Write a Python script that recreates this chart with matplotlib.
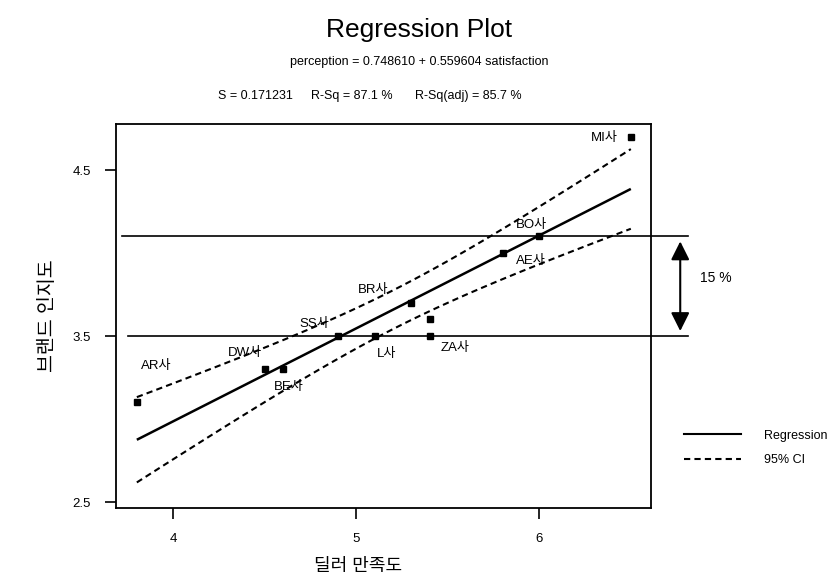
import numpy as np
import matplotlib
matplotlib.use('Agg')
import matplotlib.pyplot as plt
from matplotlib.lines import Line2D

plt.rcParams['font.family'] = ['Liberation Sans', 'Noto Sans CJK KR', 'DejaVu Sans']
plt.rcParams['axes.unicode_minus'] = False

# 딜러 만족도 / 브랜드 인지도
satisfaction = [3.8, 4.5, 4.6, 4.9, 5.1, 5.4, 5.4, 5.3, 5.8, 6.0, 6.5]
perception = [3.1, 3.3, 3.3, 3.5, 3.5, 3.5, 3.6, 3.7, 4.0, 4.1, 4.7]

companies = ['AR사', 'DW사', 'BE사', 'SS사', 'L사', 'ZA사', 'BR사', 'AE사', 'BO사', 'MI사']
# where each company name sits (left edge, vertical centre)
label_xy = [(3.82, 3.32), (4.30, 3.40), (4.55, 3.19), (4.69, 3.57), (5.11, 3.39),
            (5.46, 3.43), (5.01, 3.78), (5.87, 3.95), (5.87, 4.17), (6.28, 4.69)]

intercept = 0.748610
slope = 0.559604
s_err = 0.171231
r_sq = 87.1
r_sq_adj = 85.7
t_975 = 2.262  # t(0.975, df=9)

ref_levels = [4.1, 3.5]
gap_label = '15 %'

x = np.array(satisfaction)
y = np.array(perception)
n = len(x)
xx = np.linspace(x.min(), x.max(), 100)
fit = intercept + slope * xx
sxx = np.sum((x - x.mean())**2)
half = t_975 * s_err * np.sqrt(1.0/n + (xx - x.mean())**2 / sxx)

fig = plt.figure(figsize=(8.38, 5.82), dpi=100)
ax = fig.add_axes([0.1384, 0.1271, 0.6384, 0.6598])

ax.plot(xx, fit, color='black', lw=1.8, solid_capstyle='butt')
ax.plot(xx, fit + half, color='black', lw=1.5, dashes=(3, 2))
ax.plot(xx, fit - half, color='black', lw=1.5, dashes=(3, 2))
ax.plot(x, y, 's', color='black', ms=4)

for name, (lx, ly) in zip(companies, label_xy):
    ax.text(lx, ly, name, fontsize=9.5, va='center', ha='left')

# reference levels, running out past the right edge
for lv, x0 in zip(ref_levels, [3.72, 3.75]):
    ax.plot([x0, 6.81], [lv, lv], color='black', lw=1.2, clip_on=False)

ax.annotate('', xy=(6.77, ref_levels[1] + 0.03), xytext=(6.77, ref_levels[0] - 0.03),
            arrowprops=dict(arrowstyle='<|-|>', color='black', lw=1.5,
                            mutation_scale=28, shrinkA=0, shrinkB=0),
            annotation_clip=False)
ax.text(6.88, (ref_levels[0] + ref_levels[1]) / 2 + 0.05, gap_label, fontsize=10,
        va='center', ha='left', clip_on=False)

ax.set_xlim(3.686, 6.61)
ax.set_ylim(2.464, 4.777)
ax.set_xticks([4, 5, 6])
ax.set_yticks([2.5, 3.5, 4.5])
ax.set_yticklabels(['2.5', '3.5', '4.5'])
ax.tick_params(direction='out', length=8, width=1.2, labelsize=9.5, pad=10)
for sp in ax.spines.values():
    sp.set_linewidth(1.3)

ax.set_xlabel('딜러 만족도', fontsize=13)
ax.xaxis.set_label_coords(0.452, -0.13)
ax.set_ylabel('브랜드 인지도', fontsize=14, labelpad=11)

fig.text(0.5, 1 - 30/582, 'Regression Plot', fontsize=19, ha='center', va='center')
fig.text(0.5, 1 - 62/582,
         'perception = %.6f + %.6f satisfaction' % (intercept, slope),
         fontsize=9, ha='center', va='center')
fig.text(218/838, 1 - 96/582, 'S = %.6f' % s_err, fontsize=9, va='center')
fig.text(311/838, 1 - 96/582, 'R-Sq = %.1f %%' % r_sq, fontsize=9, va='center')
fig.text(415/838, 1 - 96/582, 'R-Sq(adj) = %.1f %%' % r_sq_adj, fontsize=9, va='center')

handles = [Line2D([], [], color='black', lw=1.5),
           Line2D([], [], color='black', lw=1.5, dashes=(3, 2))]
fig.legend(handles, ['Regression', '95% CI'], loc='center left',
           bbox_to_anchor=(673/838, 1 - 448/582), frameon=False,
           handlelength=4.5, handletextpad=1.9, labelspacing=1.0, fontsize=9)

fig.savefig('out.png', dpi=100)
